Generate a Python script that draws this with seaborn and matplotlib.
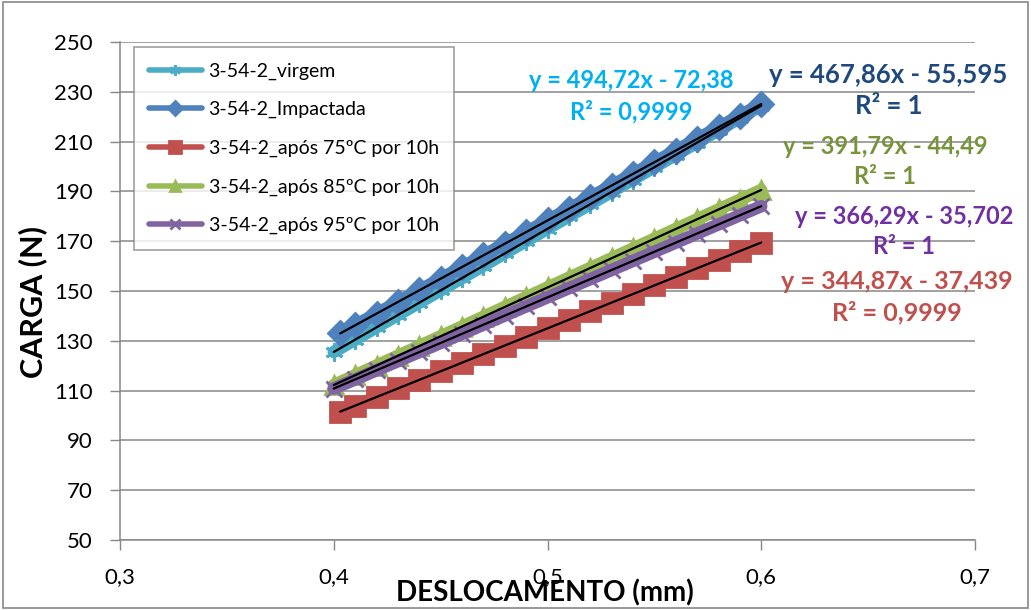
import pandas as pd
import matplotlib.pyplot as plt
import seaborn as sns
from matplotlib.patches import Rectangle

# Dados (deslocamento em mm, carga em N)
x_a = [0.40, 0.41, 0.42, 0.43, 0.44, 0.45, 0.46, 0.47, 0.48, 0.49, 0.50,
       0.51, 0.52, 0.53, 0.54, 0.55, 0.56, 0.57, 0.58, 0.59, 0.60]
x_b = [0.403, 0.41, 0.42, 0.43, 0.44, 0.45, 0.46, 0.47, 0.48, 0.49, 0.50,
       0.51, 0.52, 0.53, 0.54, 0.55, 0.56, 0.57, 0.58, 0.59, 0.60]

carga_virgem = [125.5, 130.45, 135.40, 140.35, 145.30, 150.24, 155.19, 160.14, 165.09, 170.03, 174.98,
                179.93, 184.87, 189.82, 194.77, 199.72, 204.66, 209.61, 214.56, 219.50, 224.45]
carga_impactada = [132.95, 136.23, 140.91, 145.59, 150.27, 154.94, 159.62, 164.30, 168.98, 173.66, 178.34,
                   183.02, 187.69, 192.37, 197.05, 201.73, 206.41, 211.09, 215.77, 220.44, 225.12]
carga_75 = [101.54, 103.96, 107.41, 110.85, 114.30, 117.75, 121.20, 124.65, 128.10, 131.55, 135.00,
            138.44, 141.89, 145.34, 148.79, 152.24, 155.69, 159.14, 162.59, 166.04, 169.48]
carga_85 = [112.23, 116.14, 120.06, 123.98, 127.90, 131.82, 135.73, 139.65, 143.57, 147.49, 151.41,
            155.33, 159.24, 163.16, 167.08, 171.00, 174.91, 178.83, 182.75, 186.67, 190.58]
carga_95 = [110.81, 114.48, 118.14, 121.80, 125.47, 129.13, 132.79, 136.45, 140.12, 143.78, 147.44,
            151.11, 154.77, 158.43, 162.10, 165.76, 169.42, 173.08, 176.75, 180.41, 184.07]

nomes = ['3-54-2_virgem', '3-54-2_Impactada', '3-54-2_após 75ºC por 10h',
         '3-54-2_após 85ºC por 10h', '3-54-2_após 95ºC por 10h']
equacoes = ['y = 494,72x - 72,38\nR² = 0,9999', 'y = 467,86x - 55,595\nR² = 1',
            'y = 344,87x - 37,439\nR² = 0,9999', 'y = 391,79x - 44,49\nR² = 1',
            'y = 366,29x - 35,702\nR² = 1']

series = [(x_a, carga_virgem), (x_b, carga_impactada), (x_b, carga_75), (x_a, carga_85), (x_a, carga_95)]
cores = ['#4BACC6', '#4F81BD', '#C0504D', '#9BBB59', '#8064A2']
marcadores = [(6, 2, 0), 'D', 's', '^', 'x']
tam_marc = [13, 12, 15, 13, 12]
cores_eq = ['#00B0F0', '#1F497D', '#C0504D', '#77933C', '#7030A0']
pos_eq = [(0.539, 228.3), (0.6596, 230.5), (0.6635, 147.4), (0.658, 202.0), (0.667, 173.9)]
tam_eq = [17, 18.5, 18, 17, 17]

sns.set_theme(style='white')
plt.rcParams['font.family'] = ['Lato', 'DejaVu Sans']

fig = plt.figure(figsize=(10.31, 6.10), dpi=100)
ax = fig.add_axes([0.1164, 0.1148, 0.8293, 0.8163])

for i in range(5):
    xs, ys = series[i]
    sns.lineplot(x=xs, y=ys, ax=ax, color=cores[i], marker=marcadores[i], markersize=tam_marc[i],
                 markeredgecolor=cores[i], markeredgewidth=2, linewidth=9, label=nomes[i], zorder=3)

# Linhas de tendência
for i in range(5):
    xs, ys = series[i]
    sns.regplot(x=xs, y=ys, ax=ax, scatter=False, ci=None, truncate=True,
                line_kws={'color': 'black', 'lw': 1.6, 'zorder': 5})

for i in range(5):
    ax.text(pos_eq[i][0], pos_eq[i][1], equacoes[i], color=cores_eq[i], fontsize=tam_eq[i],
            fontweight='bold', ha='center', va='center', linespacing=1.38, zorder=6)

ax.set_xlim(0.3, 0.7)
ax.set_ylim(50, 250)
ax.set_xticks([0.3, 0.4, 0.5, 0.6, 0.7])
ax.set_xticklabels(['0,3', '0,4', '0,5', '0,6', '0,7'])
ax.set_yticks(range(50, 251, 20))
ax.tick_params(axis='both', labelsize=16, length=7.5, width=1, color='#878787', labelcolor='black',
               direction='out', bottom=True, left=True)
ax.tick_params(axis='x', pad=12)
ax.tick_params(axis='y', pad=12)
ax.grid(axis='y', color='#878787', lw=1.1)
ax.grid(axis='x', visible=False)
for lado in ['top', 'right']:
    ax.spines[lado].set_visible(False)
for lado in ['left', 'bottom']:
    ax.spines[lado].set_color('#878787')
    ax.spines[lado].set_linewidth(1.1)

ax.set_xlabel('DESLOCAMENTO (mm)', fontsize=20, fontweight='bold', color='black')
ax.set_ylabel('CARGA (N)', fontsize=22, fontweight='bold', color='black')
ax.xaxis.set_label_coords(0.497, -0.106)
ax.xaxis.label.set_va('center')
ax.yaxis.set_label_coords(-0.102, 0.478)
ax.yaxis.label.set_va('center')

leg = ax.legend(loc='upper left', bbox_to_anchor=(0.016, 0.99), borderaxespad=0, fontsize=14,
                markerscale=0.6, handlelength=2.7, handletextpad=0.35, labelspacing=1.1,
                borderpad=0.8, frameon=True, fancybox=False)
leg.get_frame().set_edgecolor('#878787')
leg.get_frame().set_linewidth(1.2)
for t in leg.get_texts():
    t.set_color('black')
for h in leg.get_lines():
    h.set_linewidth(4)

fig.patches.append(Rectangle((0.003, 0.003), 0.994, 0.994, transform=fig.transFigure,
                             fill=False, edgecolor='#878787', lw=1.2))

fig.savefig('out.png', dpi=100)
